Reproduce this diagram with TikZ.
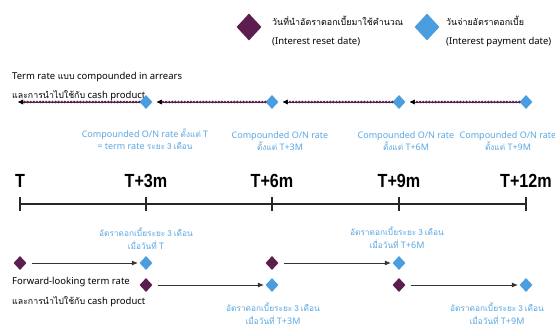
\documentclass[tikz,border=0pt]{standalone}
\usepackage{fontspec}
\setmainfont{Noto Sans}
\newfontfamily\thai[Script=Thai,WordSpace=0.7]{Loma}
\newfontfamily\axfont{Liberation Sans}
\usepackage{xcolor}
\usetikzlibrary{shapes.geometric}
\usetikzlibrary{arrows.meta}
\definecolor{resetc}{HTML}{5C1E4F}
\definecolor{payc}{HTML}{4A9EE0}
\definecolor{labc}{HTML}{5AA7E2}
\newcommand\thbody[1]{{\thai\fontsize{8.8}{12}\selectfont #1}}
\newcommand\thleg[1]{{\thai\fontsize{8.9}{12}\selectfont #1}}
\newcommand\thblue[1]{{\thai\fontsize{8.3}{10}\selectfont #1}}

\begin{document}
\begin{tikzpicture}[x=1pt,y=-1pt,
   reset/.style={diamond,fill=resetc,inner sep=0pt,minimum width=13pt,minimum height=14pt},
   pay/.style={diamond,fill=payc,inner sep=0pt,minimum width=13pt,minimum height=14pt},
   txt/.style={inner sep=0pt,font=\fontsize{9.5}{11}\selectfont},
   blu/.style={inner sep=0pt,font=\fontsize{9}{11}\selectfont,text=labc,align=center},
   tlab/.style={inner sep=0pt,font=\axfont\bfseries\fontsize{19}{20}\selectfont,xscale=0.85},
   dotarrow/.style={draw=resetc,line width=2.9pt,dash pattern=on 0pt off 3.1pt,line cap=round,
      preaction={draw=black!80,line width=.5pt,solid},
      -{Latex[black,length=5pt,width=5pt]},shorten >=4pt},
   fwd/.style={draw=black!80,line width=.6pt,-{Latex[length=6pt,width=5pt]},shorten <=5pt,shorten >=1.5pt}]
   \useasboundingbox (0,0) rectangle (555,329);

   % legend
   \node[reset,minimum width=25pt,minimum height=27pt] (lgr) at (249,27) {};
   \node[txt,anchor=west] (lgr1) at (272,21) {\thleg{วันที่นำอัตราดอกเบี้ยมาใช้คำนวณ}};
   \node[txt,anchor=west] (lgr2) at (272,42) {(Interest reset date)};
   \node[pay,minimum width=25pt,minimum height=27pt] (lgp) at (427,27) {};
   \node[txt,anchor=west] (lgp1) at (446,21) {\thleg{วันจ่ายอัตราดอกเบี้ย}};
   \node[txt,anchor=west] (lgp2) at (446,42) {(Interest payment date)};

   % compounded in arrears
   \node[txt,anchor=west] (ca1) at (12,77) {Term rate \thbody{แบบ} compounded in arrears};
   \node[txt,anchor=west] (ca2) at (12,96) {\thbody{และการนำไปใช้กับ} cash product};
   \node[pay] (c0) at (146,102) {};
   \node[pay] (c1) at (272,102) {};
   \node[pay] (c2) at (399,102) {};
   \node[pay] (c3) at (526,102) {};
   \coordinate (cl) at (18,102);
   \draw[dotarrow,shorten >=0pt] (c0) -- (cl);
   \draw[dotarrow] (c1) -- (c0);
   \draw[dotarrow] (c2) -- (c1);
   \draw[dotarrow] (c3) -- (c2);
   \node[blu] (cr0) at (145,139) {Compounded O/N rate \thblue{ตั้งแต่} T\\[1pt] = term rate \thblue{ระยะ 3 เดือน}};
   \node[blu] (cr1) at (280,141) {Compounded O/N rate\\[1pt] \thblue{ตั้งแต่} T+3M};
   \node[blu] (cr2) at (406,141) {Compounded O/N rate\\[1pt] \thblue{ตั้งแต่} T+6M};
   \node[blu] (cr3) at (508,141) {Compounded O/N rate\\[1pt] \thblue{ตั้งแต่} T+9M};

   % time line
   \foreach \x/\t [count=\i] in {20/T,146/T+3m,272/T+6m,399/T+9m,526/T+12m} {
      \coordinate (t\i) at (\x,204);
      \draw[line width=1.3pt,black!85] (\x,197) -- (\x,211);
      \node[tlab] (tl\i) at (\x,181) {\t};
   }
   \draw[line width=2.4pt,black!85] (t1) -- (t5);

   % forward-looking
   \node[txt,anchor=west] (fl1) at (12,282) {Forward-looking term rate};
   \node[txt,anchor=west] (fl2) at (12,302) {\thbody{และการนำไปใช้กับ} cash product};
   \node[reset] (r0) at (20,263) {};
   \node[pay] (q0) at (146,263) {};
   \node[reset] (r1) at (146,285) {};
   \node[pay] (q1) at (272,285) {};
   \node[reset] (r2) at (272,263) {};
   \node[pay] (q2) at (399,263) {};
   \node[reset] (r3) at (399,285) {};
   \node[pay] (q3) at (526,285) {};
   \draw[fwd] (r0) -- (q0);
   \draw[fwd] (r1) -- (q1);
   \draw[fwd] (r2) -- (q2);
   \draw[fwd] (r3) -- (q3);
   \node[blu] (fr0) at (146,239) {\thblue{อัตราดอกเบี้ยระยะ 3 เดือน}\\[2pt] \thblue{เมื่อวันที่} T};
   \node[blu] (fr2) at (397,238) {\thblue{อัตราดอกเบี้ยระยะ 3 เดือน}\\[2pt] \thblue{เมื่อวันที่} T+6M};
   \node[blu] (fr1) at (273,314) {\thblue{อัตราดอกเบี้ยระยะ 3 เดือน}\\[2pt] \thblue{เมื่อวันที่} T+3M};
   \node[blu] (fr3) at (497,314) {\thblue{อัตราดอกเบี้ยระยะ 3 เดือน}\\[2pt] \thblue{เมื่อวันที่} T+9M};
\end{tikzpicture}
\end{document}
